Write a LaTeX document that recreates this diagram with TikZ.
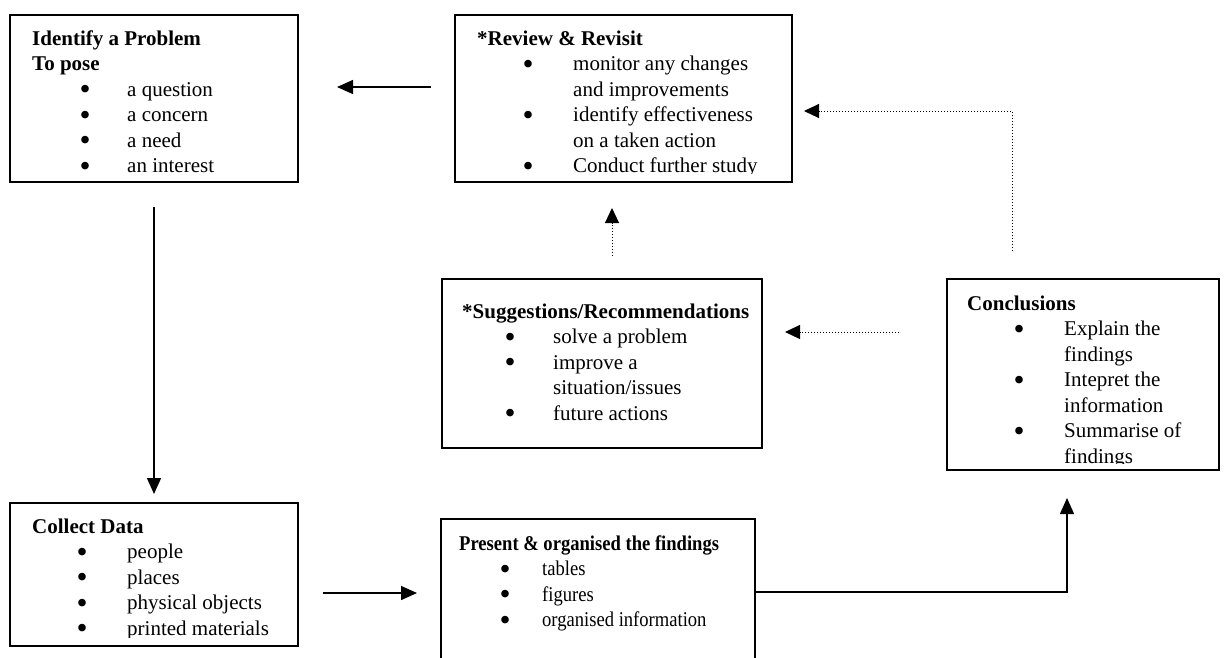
\documentclass[tikz,border=0pt]{standalone}
\usepackage{fontspec}
\usepackage{graphicx}
\setmainfont{Liberation Serif}
\newfontfamily\narrowserif[FakeStretch=0.885]{Liberation Serif}
\usetikzlibrary{arrows.meta}

% bullet column helpers: \bux = indent of the bullet, \txx = indent of the item text
\newlength\bux
\newlength\txx
\newcommand\bigdot{\smash{\raisebox{-3.5pt}{\scalebox{1.5}{\fontsize{21}{25.5}\rmfamily\selectfont\textbullet}}}}
\newcommand\bu{\makebox[\txx][l]{\hspace*{\bux}\bigdot}}
\newcommand\cont{\hspace*{\txx}}
\newcommand\panelbody[3]{\setlength\bux{#1}\setlength\txx{#2}%
  \begin{tabular}[t]{@{}l@{}}#3\end{tabular}}

\tikzset{
  panel/.style={draw, line width=2pt, inner sep=0pt},
  paneltext/.style={anchor=base west, inner sep=0pt,
    font=\fontsize{21}{25.5}\selectfont},
  flow/.style={line width=1.4pt, -{Triangle[length=16pt,width=14pt]}},
  hint/.style={line width=1pt, dash pattern=on 1pt off 2pt,
    -{Triangle[length=15pt,width=14pt]}},
}

\begin{document}
\begin{tikzpicture}[x=1pt,y=-1pt]
\clip (0,0) rectangle (1224,657);
\fill[white] (0,0) rectangle (1224,657);

% frames
\node[panel, minimum width=288pt, minimum height=167pt] (ident)   at (154,98.5)   {};
\node[panel, minimum width=337pt, minimum height=167pt] (review)  at (623.5,98.5) {};
\node[panel, minimum width=320pt, minimum height=169pt] (sugg)    at (602,363.5)  {};
\node[panel, minimum width=272pt, minimum height=191pt] (concl)   at (1083,374.5) {};
\node[panel, minimum width=288pt, minimum height=143pt] (collect) at (154,574.5)  {};
\node[panel, minimum width=314pt, minimum height=146pt] (present) at (598,592)    {};

% contents, cut off at the inner margin of each frame
\begin{scope}
  \clip (ident.north west) rectangle ([yshift=10.5pt]ident.south east);
  \node[paneltext] (ident-text) at (32,45) {\panelbody{47.5pt}{95pt}{%
    \textbf{Identify a Problem}\\
    \textbf{To pose}\\
    \bu a question\\
    \bu a concern\\
    \bu a need\\
    \bu an interest}};
\end{scope}

\begin{scope}
  \clip (review.north west) rectangle ([yshift=9.5pt]review.south east);
  \node[paneltext] (review-text) at (477,45) {\panelbody{45.5pt}{96pt}{%
    \textbf{*Review \& Revisit}\\
    \bu monitor any changes\\
    \cont and improvements\\
    \bu identify effectiveness\\
    \cont on a taken action\\
    \bu Conduct further study}};
\end{scope}

\node[paneltext] (sugg-text) at (462,318) {\panelbody{42.5pt}{91pt}{%
  \textbf{*Suggestions/Recommendations}\\
  \bu solve a problem\\
  \bu improve a\\
  \cont situation/issues\\
  \bu future actions}};

\begin{scope}
  \clip (concl.north west) rectangle ([yshift=8pt]concl.south east);
  \node[paneltext] (concl-text) at (967,310) {\panelbody{46.5pt}{97pt}{%
    \textbf{Conclusions}\\
    \bu Explain the\\
    \cont findings\\
    \bu Intepret the\\
    \cont information\\
    \bu Summarise of\\
    \cont findings}};
\end{scope}

\begin{scope}
  \clip (collect.north west) rectangle ([yshift=10pt]collect.south east);
  \node[paneltext] (collect-text) at (32,533) {\panelbody{44.5pt}{95pt}{%
    \textbf{Collect Data}\\
    \bu people\\
    \bu places\\
    \bu physical objects\\
    \bu printed materials}};
\end{scope}

\node[paneltext, font=\fontsize{21}{25.5}\narrowserif] (present-text) at (459,550)
  {\panelbody{40.5pt}{83pt}{%
  \textbf{Present \& organised the findings}\\
  \bu tables\\
  \bu figures\\
  \bu organised information}};

% solid flow
\draw[flow, shorten <=23pt, shorten >=38pt] (review.west |- 0,87) -- (ident.east |- 0,87);
\draw[flow, shorten <=24pt, shorten >=8pt] (ident.south) -- (collect.north);
\draw[flow, shorten <=24pt, shorten >=23pt] (collect.east |- 0,593) -- (present.west |- 0,593);
\draw[flow, shorten >=27pt] (present.east) -| (concl.south -| 1067,0);

% dotted feedback
\draw[hint, shorten <=47pt, shorten >=22pt] (concl.west |- 0,332) -- (sugg.east |- 0,332);
\draw[hint, shorten <=27pt, shorten >=11pt] (concl.north -| 1012,0) |- (review.east |- 0,111);
\draw[hint, shorten <=22pt, shorten >=25pt] (sugg.north -| 612,0) -- (review.south -| 612,0);
\end{tikzpicture}
\end{document}
